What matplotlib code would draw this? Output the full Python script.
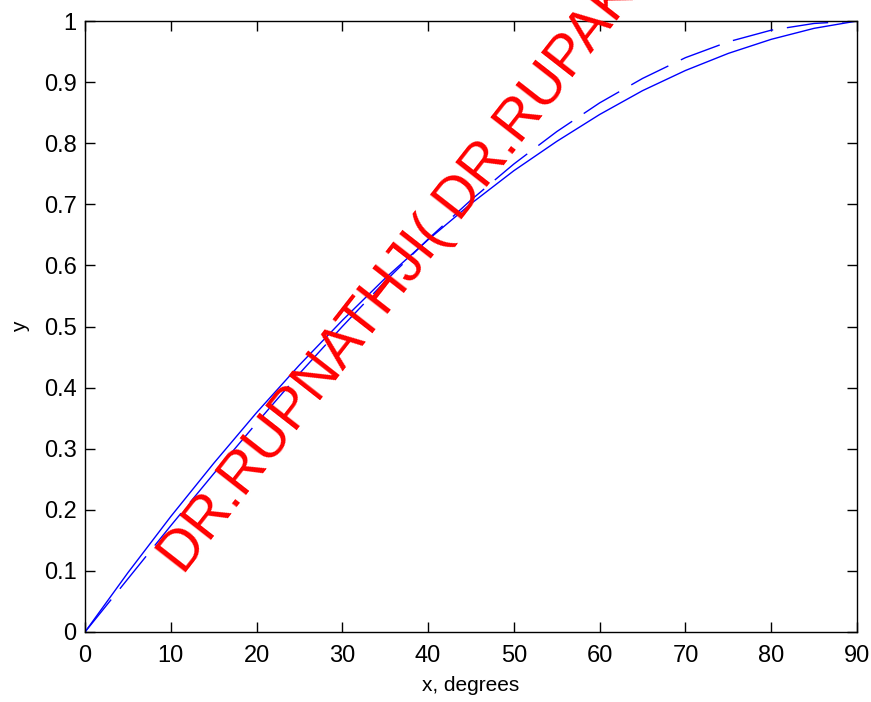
import numpy as np
import matplotlib.pyplot as plt

plt.rcParams["font.family"] = "sans-serif"
plt.rcParams["font.sans-serif"] = ["Liberation Sans"]
plt.rcParams["font.size"] = 14

# values, every 5 degrees
x_deg = [0, 5, 10, 15, 20, 25, 30, 35, 40, 45, 50, 55, 60, 65, 70, 75, 80, 85, 90]
y_solid = [0.0, 0.097, 0.189, 0.276, 0.359, 0.437, 0.510, 0.579, 0.642, 0.701,
           0.755, 0.803, 0.847, 0.886, 0.919, 0.947, 0.970, 0.988, 1.0]
y_dashed = [0.0, 0.087, 0.174, 0.259, 0.342, 0.423, 0.500, 0.574, 0.643, 0.707,
            0.766, 0.819, 0.866, 0.906, 0.940, 0.966, 0.985, 0.996, 1.0]

fig = plt.figure(figsize=(8.71, 7.02), dpi=100)
ax = fig.add_axes([85 / 871, 70 / 702, 772 / 871, 611 / 702])

ax.plot(x_deg, y_solid, color="blue", lw=1.0)
ax.plot(x_deg, y_dashed, color="blue", lw=1.0, dashes=(30, 10))

ax.set_xlim(0, 90)
ax.set_ylim(0, 1)
ax.set_xticks(range(0, 91, 10))
ax.set_yticks(np.arange(0, 1.01, 0.1))
ax.set_yticklabels(["0", "0.1", "0.2", "0.3", "0.4", "0.5", "0.6", "0.7", "0.8", "0.9", "1"])
ax.tick_params(direction="in", length=7, width=1, top=True, right=True, labelsize=17, pad=6)
ax.tick_params(axis="x", pad=9)
for s in ax.spines.values():
    s.set_linewidth(1)
ax.set_xlabel("x, degrees", fontsize=15, labelpad=7)
ax.set_ylabel("y", fontsize=15, labelpad=10)

# watermark
fig.text(184 / 871, 1 - 576 / 702, "DR.RUPNATHJI( DR.RUPAK NATH )", color="red",
         fontsize=41, rotation=52, rotation_mode="anchor", ha="left", va="baseline")

fig.savefig("out.png", dpi=100)
